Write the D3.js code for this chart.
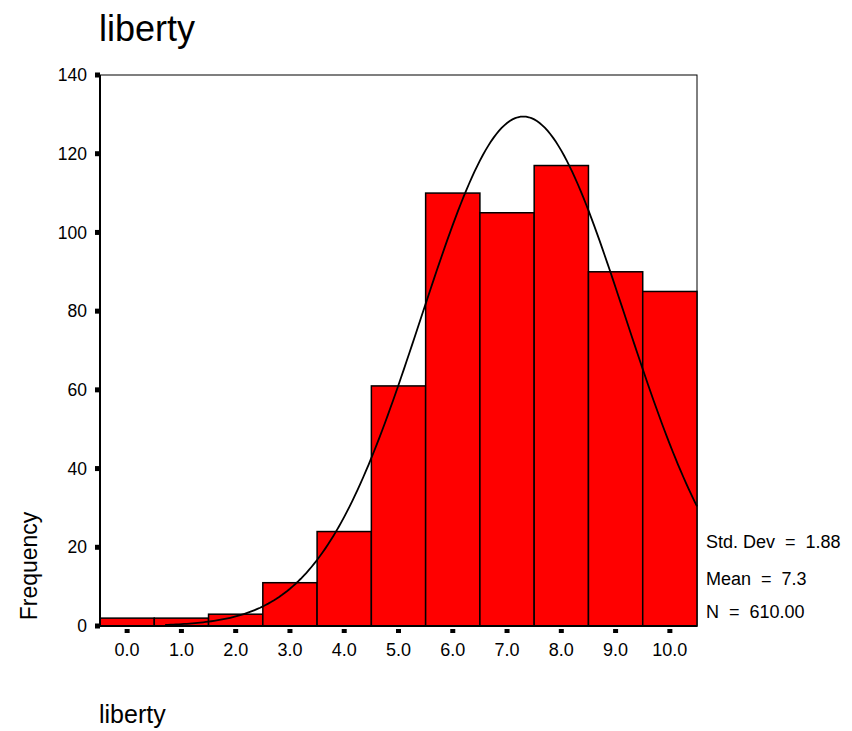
<!DOCTYPE html>
<html><head><meta charset="utf-8">
<script src="https://cdn.jsdelivr.net/npm/d3@7"></script>
<style>body{margin:0;background:#fff}svg{font-family:"Liberation Sans",Arial,sans-serif}text{white-space:pre}</style>
</head><body><svg id="c" width="852" height="731"></svg>
<script>
const binCenters = [0,1,2,3,4,5,6,7,8,9,10];
const binLabels = ["0.0","1.0","2.0","3.0","4.0","5.0","6.0","7.0","8.0","9.0","10.0"];
const frequencies = [2,2,3,11,24,61,110,105,117,90,85];
const yTicks = [0,20,40,60,80,100,120,140];
const stats = {sd:1.88, mean:7.3, n:610};
const statLines = ["Std. Dev  =  1.88","Mean  =  7.3","N  =  610.00"];

const svg = d3.select("#c");
const L=100,R=697,T=75,B=626;
const x = d3.scaleLinear().domain([-0.5,10.5]).range([L,R]);
const y = d3.scaleLinear().domain([0,140]).range([B,T]);

svg.append("text").attr("x",99).attr("y",41).attr("font-size",36).text("liberty");

// frame
svg.append("rect").attr("x",L).attr("y",T).attr("width",R-L).attr("height",B-T)
  .attr("fill","none").attr("stroke","#000").attr("stroke-width",1);

// bars
svg.selectAll("rect.bar").data(frequencies).enter().append("rect")
  .attr("x",(d,i)=>x(binCenters[i]-0.5)).attr("width",(d,i)=>x(binCenters[i]+0.5)-x(binCenters[i]-0.5))
  .attr("y",d=>y(d)).attr("height",d=>B-y(d))
  .attr("fill","#ff0000").attr("stroke","#000").attr("stroke-width",1.5);

// fitted normal curve from the displayed statistics
const bw = 1;
const pts = d3.range(0.7,10.5001,0.05).map(v=>[v, stats.n*bw/(stats.sd*Math.sqrt(2*Math.PI))*Math.exp(-0.5*((v-stats.mean)/stats.sd)**2)]);
svg.append("path").datum(pts).attr("fill","none").attr("stroke","#000").attr("stroke-width",1.8)
  .attr("d",d3.line().x(d=>x(d[0])).y(d=>y(d[1])));

// axes lines
svg.append("line").attr("x1",L).attr("x2",L).attr("y1",T).attr("y2",B+1).attr("stroke","#000").attr("stroke-width",2);
svg.append("line").attr("x1",L).attr("x2",R).attr("y1",B).attr("y2",B).attr("stroke","#000").attr("stroke-width",2);

// y ticks
const yg = svg.append("g");
yTicks.forEach(t=>{
  yg.append("rect").attr("x",L-5).attr("y",y(t)-2.5).attr("width",5).attr("height",5).attr("fill","#000");
  yg.append("text").attr("x",L-13).attr("y",y(t)).attr("dy","0.35em").attr("text-anchor","end").attr("font-size",17.5).text(t);
});
// x ticks
binCenters.forEach((c,i)=>{
  svg.append("rect").attr("x",x(c)-2.5).attr("y",B+3).attr("width",5).attr("height",4).attr("fill","#000");
  svg.append("text").attr("x",x(c)).attr("y",656).attr("text-anchor","middle").attr("font-size",18).text(binLabels[i]);
});

svg.append("text").attr("transform","translate(37,566) rotate(-90)").attr("text-anchor","middle").attr("font-size",23).text("Frequency");
svg.append("text").attr("x",99).attr("y",723).attr("font-size",25).text("liberty");

statLines.forEach((s,i)=>{
  svg.append("text").attr("x",706).attr("y",[548,585,618][i]).attr("font-size",18).text(s);
});
</script></body></html>
